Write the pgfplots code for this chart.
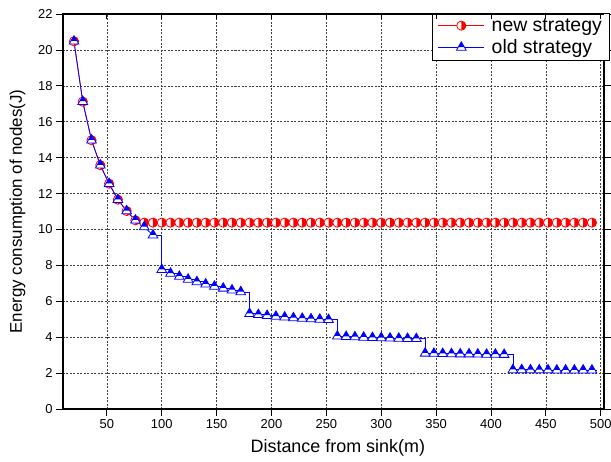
\documentclass[border=0pt]{standalone}
\usepackage{fontspec}
\setmainfont{Liberation Sans}
\usepackage{pgfplots}
\usepackage{pgfplotstable}
\pgfplotsset{compat=1.18}
\usetikzlibrary{plotmarks}

% triangle, upper part filled with the fill colour, lower strip white
\pgfdeclareplotmark{halftri}{%
  \begin{pgfscope}
    \pgfsetfillcolor{white}%
    \pgfpathmoveto{\pgfqpoint{0pt}{\pgfplotmarksize}}%
    \pgfpathlineto{\pgfqpoint{-0.866\pgfplotmarksize}{-0.5\pgfplotmarksize}}%
    \pgfpathlineto{\pgfqpoint{0.866\pgfplotmarksize}{-0.5\pgfplotmarksize}}%
    \pgfpathclose
    \pgfusepath{fill}%
  \end{pgfscope}
  \pgfpathmoveto{\pgfqpoint{0pt}{\pgfplotmarksize}}%
  \pgfpathlineto{\pgfqpoint{-0.537\pgfplotmarksize}{0.07\pgfplotmarksize}}%
  \pgfpathlineto{\pgfqpoint{0.537\pgfplotmarksize}{0.07\pgfplotmarksize}}%
  \pgfpathclose
  \pgfusepath{fill}%
  \pgfpathmoveto{\pgfqpoint{0pt}{\pgfplotmarksize}}%
  \pgfpathlineto{\pgfqpoint{-0.866\pgfplotmarksize}{-0.5\pgfplotmarksize}}%
  \pgfpathlineto{\pgfqpoint{0.866\pgfplotmarksize}{-0.5\pgfplotmarksize}}%
  \pgfpathclose
  \pgfusepath{stroke}%
}
% circle, right half filled, left half white
\pgfdeclareplotmark{halfcirc}{%
  \begin{pgfscope}
    \pgfsetfillcolor{white}%
    \pgfpathcircle{\pgfpointorigin}{\pgfplotmarksize}%
    \pgfusepath{fill}%
  \end{pgfscope}
  \pgfpathmoveto{\pgfqpoint{0pt}{\pgfplotmarksize}}%
  \pgfpatharc{90}{-90}{\pgfplotmarksize}%
  \pgfpathclose
  \pgfusepath{fill}%
  \pgfpathcircle{\pgfpointorigin}{\pgfplotmarksize}%
  \pgfusepath{stroke}%
}

% legend sample: a long line in the series colour with one mark in the middle
\pgfplotsset{
  longlegend/.style={
    legend image code/.code={%
      \draw[##1, draw=#1, line width=0.8bp]
        (0bp,0bp) -- (46bp,0bp);
      \draw[##1, draw=#1, fill=#1, line width=0.8bp]
        plot[mark options={draw=#1, fill=#1}] coordinates {(23bp,0bp)};}},
}

\pgfplotstableread{
x y
20 20.48
28 17.12
36 14.97
44 13.58
52 12.55
60 11.66
68 11.03
76 10.51
84 10.14
92 9.68
100 7.76
108 7.55
116 7.38
124 7.22
132 7.08
140 6.95
148 6.83
156 6.72
164 6.62
172 6.52
180 5.31
188 5.25
196 5.20
204 5.15
212 5.11
220 5.07
228 5.04
236 5.01
244 4.99
252 4.97
260 4.05
268 4.03
276 4.01
284 3.99
292 3.97
300 3.96
308 3.94
316 3.93
324 3.92
332 3.91
340 3.10
348 3.09
356 3.08
364 3.07
372 3.06
380 3.06
388 3.05
396 3.04
404 3.04
412 3.03
420 2.18
428 2.18
436 2.17
444 2.17
452 2.17
460 2.16
468 2.16
476 2.16
484 2.16
492 2.16
}\oldtab

\pgfplotstableread{
x y
20 20.48
28 17.12
36 14.97
44 13.58
52 12.55
60 11.66
68 11.03
76 10.51
84 10.38
92 10.38
100 10.38
108 10.38
116 10.38
124 10.38
132 10.38
140 10.38
148 10.38
156 10.38
164 10.38
172 10.38
180 10.38
188 10.38
196 10.38
204 10.38
212 10.38
220 10.38
228 10.38
236 10.38
244 10.38
252 10.38
260 10.38
268 10.38
276 10.38
284 10.38
292 10.38
300 10.38
308 10.38
316 10.38
324 10.38
332 10.38
340 10.38
348 10.38
356 10.38
364 10.38
372 10.38
380 10.38
388 10.38
396 10.38
404 10.38
412 10.38
420 10.38
428 10.38
436 10.38
444 10.38
452 10.38
460 10.38
468 10.38
476 10.38
484 10.38
492 10.38
}\newtab

\begin{document}
\begin{tikzpicture}
\begin{axis}[
  name=main,
  scale only axis,
  width=541bp, height=395bp,
  xmin=10, xmax=503, ymin=0, ymax=22,
  xtick={50,100,...,500},
  ytick={0,2,...,22},
  xtick pos=left,
  ytick pos=both,
  tick align=outside,
  major tick length=7bp,
  minor tick num=0,
  tick style={black, line width=0.8bp},
  axis line style={black, line width=1.3bp},
  grid=major,
  major grid style={black!75, line width=0.6bp, dash pattern=on 2bp off 1.5bp},
  /pgf/number format/assume math mode=true,
  ticklabel style={font=\fontsize{13}{15}\selectfont},
  xlabel={Distance from sink(m)},
  ylabel={Energy consumption of nodes(J)},
  xlabel style={font=\fontsize{18}{21}\selectfont,
    at={(axis description cs:0.508,-0.0987)}, anchor=center},
  ylabel style={font=\fontsize{17}{20}\selectfont,
    at={(axis description cs:-0.084,0.5)}, anchor=center},
  legend style={
    at={(axis description cs:1.0115,1.002)}, anchor=north east,
    font=\fontsize{19.5}{22}\selectfont,
    draw=black, line width=0.8bp, fill=white,
    inner xsep=6bp, inner ysep=3bp,
    row sep=3bp,
    /tikz/every odd column/.append style={column sep=5bp},
    cells={anchor=west}},
]
% new strategy
\addplot[red, line width=0.8bp, forget plot] table {\newtab};
\addplot[red, line width=0.8bp, forget plot] coordinates {(492,10.38) (497,10.38)};
\addplot[only marks, red, fill=red, mark=halfcirc, mark size=4.6bp,
  line width=0.8bp, forget plot] table {\newtab};
% old strategy
\addplot[blue, line width=0.8bp, forget plot,
  restrict x to domain=20:92] table {\oldtab};
\addplot[blue, line width=0.8bp, const plot, forget plot,
  restrict x to domain=92:492] table {\oldtab};
\addplot[blue, line width=0.8bp, forget plot] coordinates {(492,2.16) (497,2.16)};
\addplot[only marks, blue, fill=blue, mark=halftri, mark size=5.6bp,
  line width=0.8bp, forget plot] table {\oldtab};

\addlegendimage{longlegend=red, mark=halfcirc, mark size=4.6bp}
\addlegendentry{new strategy}
\addlegendimage{longlegend=blue, mark=halftri, mark size=5.6bp}
\addlegendentry{old strategy}
\end{axis}
% inward ticks along the top edge
\begin{axis}[
  scale only axis,
  width=541bp, height=395bp,
  xmin=10, xmax=503, ymin=0, ymax=22,
  axis x line*=top, axis y line=none,
  xtick={50,100,...,500}, xticklabels={},
  tick align=inside,
  major tick length=5bp,
  tick style={black, line width=0.8bp},
  axis line style={black, line width=1.3bp},
]
\end{axis}
\pgfresetboundingbox
\path ([shift={(-63bp,-53bp)}]main.south west) rectangle ([shift={(7bp,14bp)}]main.north east);
\end{tikzpicture}
\end{document}
